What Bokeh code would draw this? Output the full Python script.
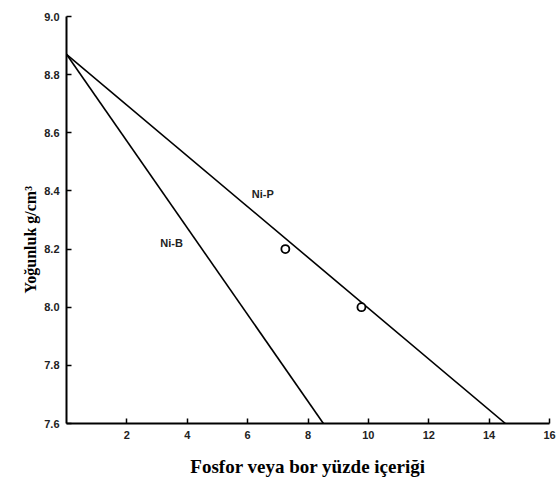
from bokeh.plotting import figure
from bokeh.models import FixedTicker, Label, NumeralTickFormatter, Title
from bokeh.embed import file_html
from bokeh.resources import INLINE

# Data
nip_x = [0.0, 14.54]
nip_y = [8.87, 7.6]
nib_x = [0.0, 8.51]
nib_y = [8.87, 7.6]
pts_x = [7.25, 9.77]
pts_y = [8.2, 8.0]
x_ticks = [2, 4, 6, 8, 10, 12, 14, 16]
y_ticks = [7.6, 7.8, 8.0, 8.2, 8.4, 8.6, 8.8, 9.0]
labels = ["Ni-P", "Ni-B"]
label_x = [6.5, 3.48]
label_y = [8.39, 8.22]

p = figure(width=556, height=484, output_backend="svg", toolbar_location=None,
           x_range=(0, 16), y_range=(7.6, 9.0),
           min_border_left=66, min_border_right=7, min_border_top=16, min_border_bottom=61)
p.outline_line_color = None
p.grid.visible = False
p.background_fill_color = "white"
p.border_fill_color = "white"

p.line(nip_x, nip_y, line_color="black", line_width=1.6)
p.line(nib_x, nib_y, line_color="black", line_width=1.6)
p.scatter(pts_x, pts_y, marker="circle", size=8, fill_color="white",
          line_color="black", line_width=1.8)

for t, lx, ly in zip(labels, label_x, label_y):
    p.add_layout(Label(x=lx, y=ly, text=t, text_font="Liberation Sans",
                       text_font_style="bold", text_font_size="11px",
                       text_align="center", text_baseline="middle", text_color="#222222"))

for ax in (p.xaxis[0], p.yaxis[0]):
    ax.axis_line_width = 2
    ax.axis_line_color = "black"
    ax.major_tick_in = 5
    ax.major_tick_out = 0
    ax.major_tick_line_width = 1.5
    ax.minor_tick_line_color = None
    ax.major_label_text_font = "Liberation Sans"
    ax.major_label_text_font_style = "bold"
    ax.major_label_text_font_size = "11px"
    ax.major_label_text_color = "#222222"
    ax.axis_label_text_font = "Liberation Serif"
    ax.axis_label_text_font_style = "bold"
    ax.axis_label_text_color = "black"

p.xaxis[0].ticker = FixedTicker(ticks=x_ticks)
p.yaxis[0].ticker = FixedTicker(ticks=y_ticks)
p.yaxis[0].formatter = NumeralTickFormatter(format="0.0")
p.xaxis[0].major_label_standoff = 7
p.yaxis[0].major_label_standoff = 7
p.xaxis[0].axis_label = "Fosfor veya bor yüzde içeriği"
p.xaxis[0].axis_label_text_font_size = "19px"
p.xaxis[0].axis_label_standoff = 14

# Y-axis title, placed below the vertical centre as in the reference
ytitle = Title(text="Yoğunluk g/cm³", align="left", offset=130, standoff=5,
               text_font="Liberation Serif", text_font_style="bold",
               text_font_size="16px", text_color="black")
p.add_layout(ytitle, "left")

open("out.html", "w").write(file_html(p, INLINE))
